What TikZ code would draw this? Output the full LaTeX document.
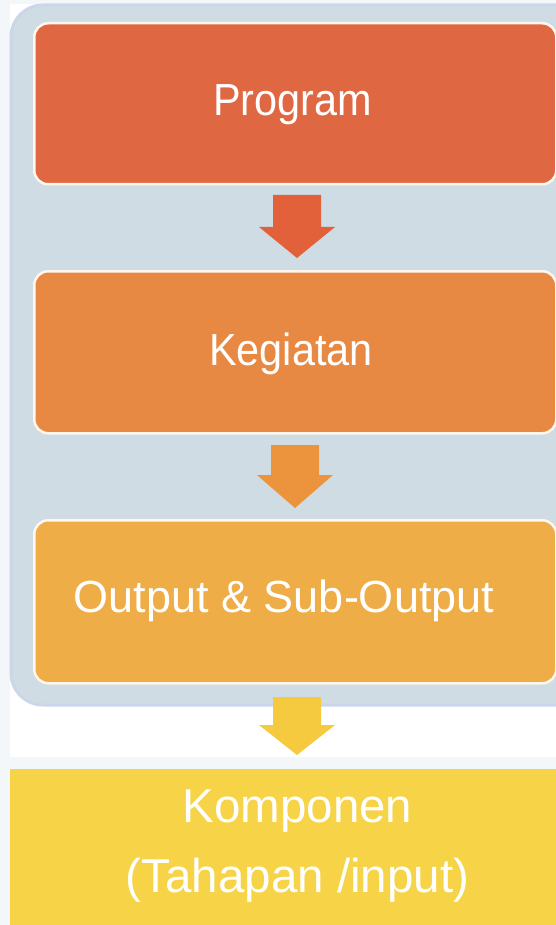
\documentclass[tikz,border=0pt]{standalone}
\usepackage{fontspec}
\setmainfont{Liberation Sans}
\newfontfamily\narrowsans{Liberation Sans}[FakeStretch=0.92]
\definecolor{pagebg}{HTML}{F3F7F9}
\definecolor{panelfill}{HTML}{CFDCE3}
\definecolor{paneledge}{HTML}{CCD6EA}
\definecolor{boxedge}{HTML}{FFF7EE}
\definecolor{progfill}{HTML}{DF6742}
\definecolor{kegfill}{HTML}{E88943}
\definecolor{outfill}{HTML}{EFAD47}
\definecolor{compfill}{HTML}{F7D347}
\definecolor{arrowA}{HTML}{E2603A}
\definecolor{arrowB}{HTML}{EC933D}
\definecolor{arrowC}{HTML}{F6CA3F}
\begin{document}
\begin{tikzpicture}[x=1pt,y=-1pt,
  stagebox/.style={draw=boxedge, line width=2.5pt, rounded corners=14pt,
    inner sep=0pt, anchor=north west, minimum width=522pt, minimum height=161pt},
  stagelabel/.style={text=white, anchor=base, inner sep=0pt},
  pics/downarrow/.style args={#1/#2/#3}{code={
    \fill[#1] (-24,0) -- (24,0) -- (24,#2-#3) -- (38,#2-#3) -- (0,#2)
      -- (-38,#2-#3) -- (-24,#2-#3) -- cycle;}}]
  \useasboundingbox (0,0) rectangle (556,925);
  \begin{scope}
    \clip (0,0) rectangle (556,925);
    % page and white backing sheet
    \fill[pagebg] (0,0) rectangle (556,925);
    \fill[white] (10,4) rectangle (556,757);
    % grey-blue container panel
    \fill[panelfill, draw=paneledge, line width=3pt, rounded corners=32pt]
      (11,5) rectangle (620,705);
    % stage boxes
    \node[stagebox, fill=progfill] (prog) at (33,22) {};
    \node[stagebox, fill=kegfill, minimum height=162pt] (keg) at (33,270) {};
    \node[stagebox, fill=outfill, minimum height=163pt] (outp) at (33,519) {};
    % component band
    \node[fill=compfill, inner sep=0pt, anchor=north west,
      minimum width=546pt, minimum height=156pt] (comp) at (10,769) {};
    % labels
    \node[stagelabel, font=\narrowsans\fontsize{45}{54}\selectfont] (tprog) at (292.5,116) {Program};
    \node[stagelabel, font=\narrowsans\fontsize{45}{54}\selectfont] (tkeg) at (291,365) {Kegiatan};
    \node[stagelabel, font=\fontsize{45}{54}\selectfont] (toutp) at (284,612) {Output \& Sub-Output};
    \node[stagelabel, font=\fontsize{47.5}{57}\selectfont] (tcomp1) at (297.5,822) {Komponen};
    \node[stagelabel, font=\fontsize{47.5}{57}\selectfont] (tcomp2) at (297.5,892) {(Tahapan /input)};
    % flow arrows between stages
    \pic at (297,195) {downarrow={arrowA/63/31}};
    \pic at (295,445) {downarrow={arrowB/63/33}};
    \pic at (297,697) {downarrow={arrowC/58/30}};
  \end{scope}
\end{tikzpicture}
\end{document}
